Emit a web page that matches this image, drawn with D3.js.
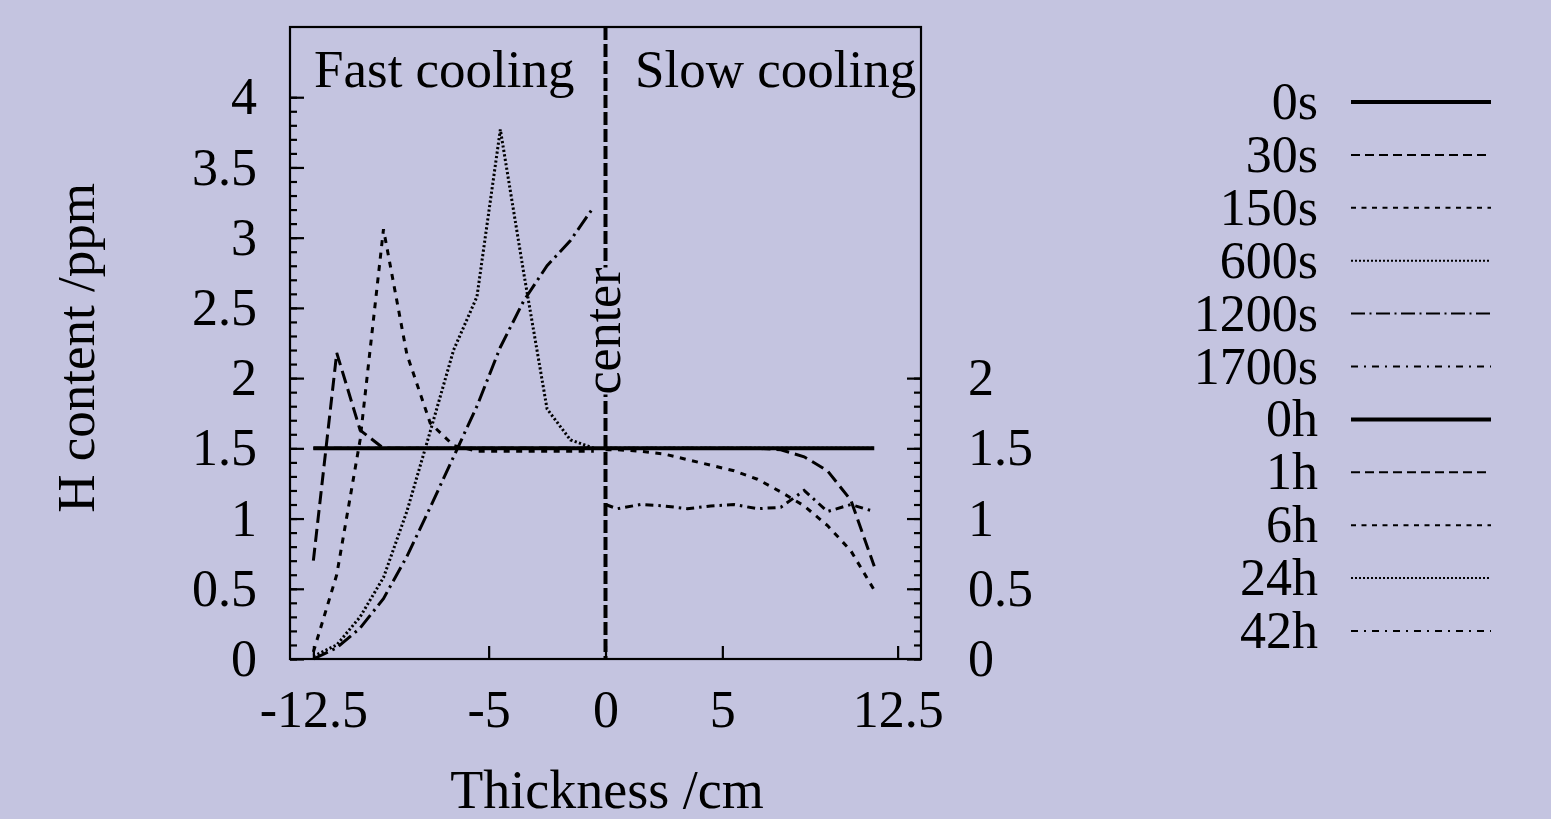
<!DOCTYPE html>
<html>
<head>
<meta charset="utf-8">
<script src="https://cdn.jsdelivr.net/npm/d3@7"></script>
<style>
  html, body { margin: 0; padding: 0; background: #c4c4e0; }
  svg { display: block; font-family: "Liberation Serif", "DejaVu Serif", serif; }
</style>
</head>
<body>
<svg id="chart" width="1551" height="819"></svg>
<script>
// thickness grid (cm) for each half of the plate
const fastX = [-12.5, -11.5, -10.5, -9.5, -8.5, -7.5, -6.5, -5.5, -4.5, -3.5, -2.5, -1.5, -0.5];
const slowX = [0, 0.5, 1.5, 2.5, 3.5, 4.5, 5.5, 6.5, 7.5, 8.5, 9.5, 10.5, 11.5];
const edgeX = [-12.5, 0];

// H content (ppm), fast cooling side
const h0s    = [1.5, 1.5];
const h30s   = [0.7, 2.18, 1.63, 1.5, 1.5, 1.5, 1.5, 1.5, 1.5, 1.5, 1.5, 1.5, 1.5];
const h150s  = [0.05, 0.6, 1.56, 3.06, 2.17, 1.68, 1.52, 1.48, 1.48, 1.48, 1.48, 1.48, 1.48];
const h600s  = [0.02, 0.1, 0.3, 0.58, 1.05, 1.62, 2.2, 2.58, 3.77, 2.75, 1.78, 1.56, 1.5];
const h1200s = [0.0, 0.08, 0.22, 0.43, 0.73, 1.08, 1.44, 1.8, 2.22, 2.55, 2.8, 2.98, 3.22];
const h1700s = [1.5, 1.5, 1.5, 1.5, 1.5, 1.5, 1.5, 1.5, 1.5, 1.5, 1.5, 1.5, 1.5];

// H content (ppm), slow cooling side
const h0h  = [1.5, 1.5, 1.5, 1.5, 1.5, 1.5, 1.5, 1.5, 1.5, 1.5, 1.5, 1.5, 1.5];
const h1h  = [1.5, 1.5, 1.5, 1.5, 1.5, 1.5, 1.5, 1.5, 1.49, 1.44, 1.34, 1.13, 0.66];
const h6h  = [1.49, 1.49, 1.48, 1.46, 1.42, 1.38, 1.34, 1.28, 1.19, 1.09, 0.95, 0.77, 0.49];
const h24h = [1.5, 1.5, 1.5, 1.5, 1.5, 1.5, 1.5, 1.5, 1.5, 1.5, 1.5, 1.5, 1.5];
const h42h = [1.1, 1.07, 1.1, 1.09, 1.07, 1.09, 1.1, 1.07, 1.08, 1.2, 1.05, 1.1, 1.05];

const legendLabels = ["0s", "30s", "150s", "600s", "1200s", "1700s", "0h", "1h", "6h", "24h", "42h"];

const xTicks = [-12.5, -5, 0, 5, 12.5];
const yTicksLeft = [0, 0.5, 1, 1.5, 2, 2.5, 3, 3.5, 4];
const yTicksRight = [0, 0.5, 1, 1.5, 2];

// line styles (gnuplot-like dash types): plot pattern, legend pattern
const dashes = {
  solid: [null, null],
  dash: ["13,6", "9,5"],
  short: ["6,6.5", "5,5.5"],
  dot: ["2.2,2.3", "2,2"],
  dashdot: ["16,5,2.5,5", "14,4.5,2,4.5"],
  dashdot2: ["8,5,2.5,5", "7,6,2,6"]
};

const series = [
  {xs: edgeX, ys: h0s,    dt: "solid"},
  {xs: fastX, ys: h30s,   dt: "dash"},
  {xs: fastX, ys: h150s,  dt: "short"},
  {xs: fastX, ys: h600s,  dt: "dot"},
  {xs: fastX, ys: h1200s, dt: "dashdot"},
  {xs: fastX, ys: h1700s, dt: "dashdot2"},
  {xs: slowX, ys: h0h,    dt: "solid"},
  {xs: slowX, ys: h1h,    dt: "dash"},
  {xs: slowX, ys: h6h,    dt: "short"},
  {xs: slowX, ys: h24h,   dt: "dot"},
  {xs: slowX, ys: h42h,   dt: "dashdot2"}
];
series.forEach((s, i) => s.label = legendLabels[i]);

const fs = 52;
const plot = {left: 290, right: 921, top: 27, bottom: 659};
const bg = "#c4c4e0";

const svg = d3.select("#chart");

const xScale = d3.scaleLinear().domain([-13.5, 13.5]).range([plot.left, plot.right]);
const yScale = d3.scaleLinear().domain([0, 4.5]).range([plot.bottom, plot.top]);

// minor ticks every 0.1
const minorLeft = d3.range(0, 4.001, 0.1).map(v => +v.toFixed(1));
const minorRight = d3.range(0, 2.001, 0.1).map(v => +v.toFixed(1));

// left axis
svg.append("g")
  .attr("transform", `translate(${plot.left},0)`)
  .call(d3.axisLeft(yScale).tickValues(minorLeft).tickSize(-7).tickFormat(""))
  .call(g => g.select(".domain").remove());
const yAxisL = svg.append("g")
  .attr("transform", `translate(${plot.left},0)`)
  .call(d3.axisLeft(yScale).tickValues(yTicksLeft).tickSize(-14).tickPadding(33).tickFormat(d => String(d)));
yAxisL.select(".domain").remove();

// right axis
svg.append("g")
  .attr("transform", `translate(${plot.right},0)`)
  .call(d3.axisRight(yScale).tickValues(minorRight).tickSize(-7).tickFormat(""))
  .call(g => g.select(".domain").remove());
const yAxisR = svg.append("g")
  .attr("transform", `translate(${plot.right},0)`)
  .call(d3.axisRight(yScale).tickValues(yTicksRight).tickSize(-14).tickPadding(47).tickFormat(d => String(d)));
yAxisR.select(".domain").remove();

// bottom axis
const xAxis = svg.append("g")
  .attr("transform", `translate(0,${plot.bottom})`)
  .call(d3.axisBottom(xScale).tickValues(xTicks).tickSize(-13).tickPadding(32).tickFormat(d => String(d)));
xAxis.select(".domain").remove();

[yAxisL, yAxisR, xAxis].forEach(g => {
  g.selectAll("text").attr("font-size", fs).attr("font-family", "Liberation Serif").attr("fill", "#000");
});
yAxisL.selectAll("text").attr("dy", "0.32em");
yAxisR.selectAll("text").attr("dy", "0.32em");
xAxis.selectAll("text").attr("dy", "0.7em");
svg.selectAll(".tick line").attr("stroke", "#000").attr("stroke-width", 2.2);

// frame
svg.append("rect")
  .attr("x", plot.left).attr("y", plot.top)
  .attr("width", plot.right - plot.left).attr("height", plot.bottom - plot.top)
  .attr("fill", "none").attr("stroke", "#000").attr("stroke-width", 2.2);

// curves
const line = d3.line().x(d => xScale(d[0])).y(d => yScale(d[1]));
svg.append("g").selectAll("path")
  .data(series)
  .join("path")
  .attr("d", s => line(s.xs.map((xv, i) => [xv, s.ys[i]])))
  .attr("fill", "none")
  .attr("stroke", "#000")
  .attr("stroke-width", s => s.dt === "solid" ? 4 : 3)
  .attr("stroke-dasharray", s => dashes[s.dt][0]);

// centre line with label
svg.append("line")
  .attr("x1", xScale(0)).attr("x2", xScale(0))
  .attr("y1", plot.top).attr("y2", plot.bottom)
  .attr("stroke", "#000").attr("stroke-width", 4)
  .attr("stroke-dasharray", "13,4");

const centerG = svg.append("g");
const centerText = centerG.append("text")
  .attr("transform", `translate(${xScale(0) + 14},331) rotate(-90)`)
  .attr("text-anchor", "middle")
  .attr("font-size", fs)
  .text("center");
const bb = centerText.node().getBBox();
centerG.insert("rect", "text")
  .attr("transform", `translate(${xScale(0) + 14},331) rotate(-90)`)
  .attr("x", bb.x).attr("y", bb.y + 6)
  .attr("width", bb.width).attr("height", bb.height - 6)
  .attr("fill", bg);

// region labels
svg.append("text").attr("x", 314).attr("y", 87).attr("font-size", 53).text("Fast cooling");
svg.append("text").attr("x", 635).attr("y", 87).attr("font-size", 53).text("Slow cooling");

// axis titles
svg.append("text")
  .attr("x", 607).attr("y", 808)
  .attr("text-anchor", "middle").attr("font-size", 54)
  .text("Thickness /cm");
svg.append("text")
  .attr("transform", "translate(94,348) rotate(-90)")
  .attr("text-anchor", "middle").attr("font-size", 53)
  .text("H content /ppm");

// legend
const legY = d3.scaleLinear().domain([0, 10]).range([102, 631]);
const leg = svg.append("g").selectAll("g")
  .data(series)
  .join("g")
  .attr("transform", (d, i) => `translate(0,${legY(i)})`);
leg.append("text")
  .attr("x", 1318).attr("y", 17)
  .attr("text-anchor", "end").attr("font-size", fs)
  .text(d => d.label);
leg.append("line")
  .attr("x1", 1351).attr("x2", 1491)
  .attr("stroke", "#000")
  .attr("stroke-width", d => d.dt === "solid" ? 4 : 2)
  .attr("stroke-dasharray", d => dashes[d.dt][1]);
</script>
</body>
</html>
